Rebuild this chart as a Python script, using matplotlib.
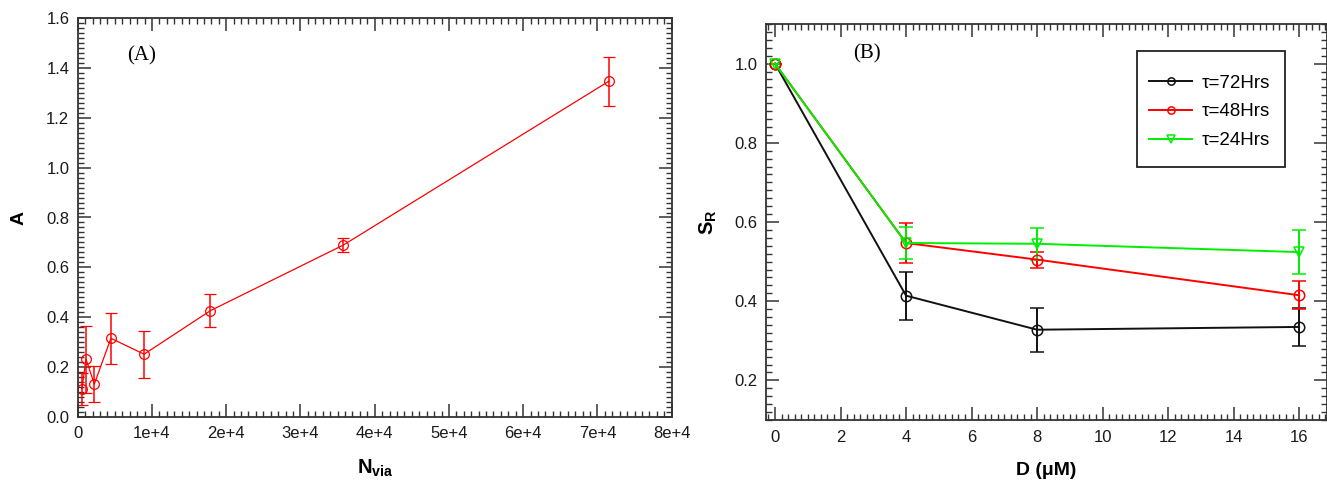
import numpy as np
import matplotlib
matplotlib.use("Agg")
from matplotlib import pyplot as plt
from matplotlib.patches import Rectangle
from matplotlib.ticker import MultipleLocator, FixedLocator, FixedFormatter

plt.rcParams['font.family'] = ['Liberation Sans', 'DejaVu Sans']
plt.rcParams['mathtext.fontset'] = 'custom'
plt.rcParams['mathtext.rm'] = 'Liberation Sans'
plt.rcParams['mathtext.bf'] = 'Liberation Sans:bold'

######### panel (A): absorbance vs viable cell number
n_via = [560, 1120, 2240, 4470, 8940, 17880, 35760, 71520]
a_vals = [0.111, 0.231, 0.131, 0.315, 0.251, 0.426, 0.689, 1.347]
a_err = [0.065, 0.135, 0.073, 0.103, 0.095, 0.066, 0.027, 0.099]
a_xticks = [0, 1e4, 2e4, 3e4, 4e4, 5e4, 6e4, 7e4, 8e4]
a_xticklabels = ['0', '1e+4', '2e+4', '3e+4', '4e+4', '5e+4', '6e+4', '7e+4', '8e+4']
a_yticks = [0.0, 0.2, 0.4, 0.6, 0.8, 1.0, 1.2, 1.4, 1.6]

######### panel (B): relative survival vs dose
dose = [0, 4, 8, 16]
sr_72 = [1.0, 0.414, 0.328, 0.335]
sr_72_err = [0.0, 0.061, 0.056, 0.048]
sr_48 = [1.0, 0.547, 0.505, 0.415]
sr_48_err = [0.0, 0.050, 0.020, 0.035]
sr_24 = [1.0, 0.547, 0.545, 0.524]
sr_24_err = [0.0, 0.041, 0.041, 0.055]
series_labels = ['τ=72Hrs', 'τ=48Hrs', 'τ=24Hrs']
b_xticks = [0, 2, 4, 6, 8, 10, 12, 14, 16]
b_yticks = [0.2, 0.4, 0.6, 0.8, 1.0]


def style_axes(ax):
    ax.tick_params(which='both', direction='in', top=True, right=True,
                   labelsize=12, labelcolor='#1a1a1a', color='#333333')
    ax.tick_params(which='major', length=9.5, width=1.1)
    ax.tick_params(which='minor', length=4.5, width=1.0)
    ax.tick_params(axis='x', which='major', pad=7)
    ax.tick_params(axis='y', which='major', pad=6)
    for sp in ax.spines.values():
        sp.set_linewidth(1.3)
        sp.set_color('#333333')


def plot_a(ax):
    ax.errorbar(n_via, a_vals, yerr=a_err, color='red', lw=0.9,
                marker='o', ms=7, mfc='none', mec='red', mew=0.9,
                ecolor='red', elinewidth=1.1, capsize=4.5, capthick=1.1)
    ax.set_xlim(0, 8e4)
    ax.set_ylim(0, 1.6)
    ax.xaxis.set_major_locator(FixedLocator(a_xticks))
    ax.xaxis.set_major_formatter(FixedFormatter(a_xticklabels))
    ax.xaxis.set_minor_locator(MultipleLocator(1000))
    ax.yaxis.set_major_locator(FixedLocator(a_yticks))
    ax.yaxis.set_major_formatter(FixedFormatter(['%.1f' % v for v in a_yticks]))
    ax.yaxis.set_minor_locator(MultipleLocator(0.02))
    style_axes(ax)
    ax.set_xlabel(r'$\mathbf{N_{via}}$', fontsize=14.5)
    ax.xaxis.set_label_coords(0.5, -0.103)
    ax.set_ylabel('A', fontsize=14, fontweight='bold')
    ax.yaxis.set_label_coords(-0.085, 0.5)
    ax.text(0.084, 0.905, '(A)', transform=ax.transAxes, ha='left', va='center',
            fontsize=15, family='Liberation Serif')


def plot_b(ax):
    colors = ['#111111', 'red', '#00ee00']
    markers = ['o', 'o', 'v']
    for vals, errs, c, m, lab in zip([sr_72, sr_48, sr_24],
                                     [sr_72_err, sr_48_err, sr_24_err],
                                     colors, markers, series_labels):
        ax.errorbar(dose, vals, yerr=errs, color=c, lw=1.4,
                    marker=m, ms=7.5, mfc='none', mec=c, mew=1.1,
                    ecolor=c, elinewidth=1.4, capsize=5, capthick=1.4, label=lab)
    ax.set_xlim(-0.275, 16.85)
    ax.set_ylim(0.1, 1.1)
    ax.xaxis.set_major_locator(FixedLocator(b_xticks))
    ax.xaxis.set_major_formatter(FixedFormatter([str(v) for v in b_xticks]))
    ax.xaxis.set_minor_locator(MultipleLocator(0.2))
    ax.yaxis.set_major_locator(FixedLocator(b_yticks))
    ax.yaxis.set_major_formatter(FixedFormatter(['%.1f' % v for v in b_yticks]))
    ax.yaxis.set_minor_locator(MultipleLocator(0.02))
    style_axes(ax)
    ax.set_xlabel('D (μM)', fontsize=14, fontweight='bold')
    ax.xaxis.set_label_coords(0.5, -0.105)
    ax.set_ylabel(r'$\mathbf{S_R}$', fontsize=14.5)
    ax.yaxis.set_label_coords(-0.084, 0.5)
    ax.text(0.156, 0.924, '(B)', transform=ax.transAxes, ha='left', va='center',
            fontsize=15, family='Liberation Serif')

    # legend entries without frame, plus a plain box around them
    handles, labels = ax.get_legend_handles_labels()
    handles = [h[0] for h in handles]
    ax.legend(handles, labels, loc='center left', bbox_to_anchor=(0.683, 0.778),
              fontsize=13.5, frameon=False, handlelength=2.3, handletextpad=0.5,
              borderpad=0, labelspacing=0.62, markerscale=0.7, borderaxespad=0)
    box = Rectangle((0.661, 0.639), 0.264, 0.293, transform=ax.transAxes,
                    fill=False, edgecolor='#222222', lw=1.3, zorder=5)
    ax.add_patch(box)


fig = plt.figure(figsize=(13.27, 4.8), dpi=100)
ax_a = fig.add_axes([77.7 / 1327, 63.3 / 480, 594 / 1327, 398.4 / 480])
ax_b = fig.add_axes([766 / 1327, 60 / 480, 561 / 1327, 396 / 480])
plot_a(ax_a)
plot_b(ax_b)
fig.savefig('out.png', dpi=100)
plt.close(fig)
